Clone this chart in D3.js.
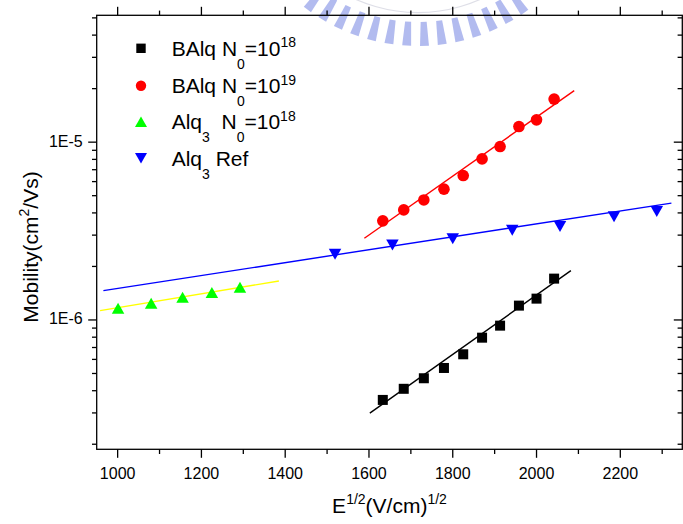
<!DOCTYPE html>
<html><head><meta charset="utf-8">
<script src="https://cdn.jsdelivr.net/npm/d3@7"></script>
<style>
html,body{margin:0;padding:0;background:#fff;}
svg{display:block;font-family:"Liberation Sans",Arial,Helvetica,sans-serif;}
</style></head><body>
<svg id="chart" width="683" height="524"></svg>
<script>
// Square-root field, E^(1/2) in (V/cm)^(1/2)
const fieldBAlq = [1633, 1683, 1731, 1779, 1825, 1870, 1913, 1958, 2000, 2042];
const muBAlq18 = [3.55e-7, 4.10e-7, 4.70e-7, 5.37e-7, 6.41e-7, 7.95e-7, 9.29e-7, 1.204e-6, 1.318e-6, 1.708e-6];
const muBAlq19 = [3.61e-6, 4.16e-6, 4.73e-6, 5.44e-6, 6.49e-6, 8.05e-6, 9.45e-6, 1.224e-5, 1.335e-5, 1.746e-5];
const fieldAlq18 = [1001, 1080, 1155, 1225, 1292];
const muAlq18 = [1.164e-6, 1.241e-6, 1.342e-6, 1.425e-6, 1.528e-6];
const fieldAlqRef = [1519, 1656, 1800, 1942, 2056, 2185, 2287];
const muAlqRef = [2.34e-6, 2.64e-6, 2.86e-6, 3.20e-6, 3.35e-6, 3.81e-6, 4.07e-6];

// Linear fits of log(mobility) vs E^(1/2): [start, end]
const fitBAlq18 = [[1602, 2.99e-7], [2082, 1.894e-6]];
const fitBAlq19 = [[1589, 2.88e-6], [2090, 1.95e-5]];
const fitAlq18 = [[958, 1.128e-6], [1385, 1.657e-6]];
const fitAlqRef = [[966, 1.462e-6], [2322, 4.54e-6]];

// Axis ticks
const xMajorTicks = [1000, 1200, 1400, 1600, 1800, 2000, 2200];
const xMinorTicks = [1100, 1300, 1500, 1700, 1900, 2100, 2300];
const yMajorTicks = [1e-6, 1e-5];
const yMinorTicks = [2e-7, 3e-7, 4e-7, 5e-7, 6e-7, 7e-7, 8e-7, 9e-7,
                     2e-6, 3e-6, 4e-6, 5e-6, 6e-6, 7e-6, 8e-6, 9e-6,
                     2e-5, 3e-5, 4e-5, 5e-5];

// Legend entries (rich text segments)
const legendLabels = [
  [{t: "BAlq N"}, {t: "0", sub: true}, {t: "=10"}, {t: "18", sup: true}],
  [{t: "BAlq N"}, {t: "0", sub: true}, {t: "=10"}, {t: "19", sup: true}],
  [{t: "Alq"}, {t: "3", sub: true}, {t: "  N"}, {t: "0", sub: true}, {t: "=10"}, {t: "18", sup: true}],
  [{t: "Alq"}, {t: "3", sub: true}, {t: " Ref"}]
];

const svg = d3.select("#chart");
svg.append("rect").attr("width", 683).attr("height", 524).attr("fill", "#fff");

const plot = {left: 96.7, right: 682.3, top: 15.3, bottom: 449.3};
const x = d3.scaleLinear().domain([950, 2348]).range([plot.left, plot.right]);
const y = d3.scaleLog().domain([1.873e-7, 5.17e-5]).range([plot.bottom, plot.top]);

// Faint emblem printed behind the top of the frame
const emblem = svg.append("g").attr("opacity", 0.6);
const emblemAngles = [55, 60.5, 66, 71.5, 77, 82.5, 88, 93.5, 99, 104.5, 110, 115.5, 121, 126.5];
const ec = {x: 418, y: -140};
emblemAngles.forEach(a => {
  const r0 = 162, r1 = 186, half = 1.25;
  const p = (ang, r) => [ec.x + r * Math.cos(ang * Math.PI / 180), ec.y + r * Math.sin(ang * Math.PI / 180)];
  const pts = [p(a - half * 0.85, r0), p(a + half * 0.85, r0), p(a + half * 1.1, r1), p(a - half * 1.1, r1)];
  emblem.append("path").attr("d", "M" + pts.map(q => q.join(",")).join("L") + "Z").attr("fill", "#7f8ee6");
});
emblem.append("path")
  .attr("d", d3.arc()({innerRadius: 152, outerRadius: 153.2, startAngle: Math.PI * 0.64, endAngle: Math.PI * 1.36}))
  .attr("transform", `translate(${ec.x},${ec.y})`).attr("fill", "#c9cad8");

// Ticks
const tickG = svg.append("g").attr("stroke", "#000").attr("stroke-width", 1.3);
const MAJ = 8.5, MIN = 4.7;
xMajorTicks.forEach(v => {
  tickG.append("line").attr("x1", x(v)).attr("x2", x(v)).attr("y1", plot.bottom).attr("y2", plot.bottom + MAJ);
  tickG.append("line").attr("x1", x(v)).attr("x2", x(v)).attr("y1", plot.top).attr("y2", plot.top - MAJ);
});
xMinorTicks.forEach(v => {
  tickG.append("line").attr("x1", x(v)).attr("x2", x(v)).attr("y1", plot.bottom).attr("y2", plot.bottom + MIN);
  tickG.append("line").attr("x1", x(v)).attr("x2", x(v)).attr("y1", plot.top).attr("y2", plot.top - MIN);
});
yMajorTicks.forEach(v => {
  tickG.append("line").attr("y1", y(v)).attr("y2", y(v)).attr("x1", plot.left).attr("x2", plot.left - MAJ);
  tickG.append("line").attr("y1", y(v)).attr("y2", y(v)).attr("x1", plot.right).attr("x2", plot.right - MAJ);
});
yMinorTicks.forEach(v => {
  tickG.append("line").attr("y1", y(v)).attr("y2", y(v)).attr("x1", plot.left).attr("x2", plot.left - MIN);
  tickG.append("line").attr("y1", y(v)).attr("y2", y(v)).attr("x1", plot.right).attr("x2", plot.right - MIN);
});

// Frame
svg.append("rect")
  .attr("x", plot.left).attr("y", plot.top)
  .attr("width", plot.right - plot.left).attr("height", plot.bottom - plot.top)
  .attr("fill", "none").attr("stroke", "#000").attr("stroke-width", 1.3);

// Tick labels
svg.append("g").selectAll("text").data(xMajorTicks).join("text")
  .attr("x", d => x(d)).attr("y", 478.5)
  .attr("text-anchor", "middle").attr("font-size", 16).text(d => d);
svg.append("g").selectAll("text").data(yMajorTicks).join("text")
  .attr("x", 82.7).attr("y", d => y(d) + 4.5)
  .attr("text-anchor", "end").attr("font-size", 16)
  .text(d => "1E" + Math.round(Math.log10(d)));

// Rich text helper (sub/superscripts)
function rich(sel, parts, size, subShift, supShift, small) {
  let off = 0;
  parts.forEach(p => {
    let target = p.sub ? subShift : p.sup ? -supShift : 0;
    sel.append("tspan")
      .attr("dy", target - off)
      .attr("font-size", p.sub || p.sup ? small : size)
      .text(p.t);
    off = target;
  });
}

// Axis titles
const xt = svg.append("text").attr("x", x((950 + 2348) / 2)).attr("y", 513)
  .attr("text-anchor", "middle").attr("font-size", 21).style("white-space", "pre");
rich(xt, [{t: "E"}, {t: "1/2", sup: true}, {t: "(V/cm)"}, {t: "1/2", sup: true}], 21, 13, 9, 14);

const yt = svg.append("text").attr("transform", "translate(37.5,247) rotate(-90)")
  .attr("text-anchor", "middle").attr("font-size", 21);
rich(yt, [{t: "Mobility(cm"}, {t: "2", sup: true}, {t: "/Vs)"}], 21, 13, 9, 14);

// Marker shapes
const tri = (w, h, down) => down
  ? `M${-w / 2},${-h / 2}L${w / 2},${-h / 2}L0,${h / 2}Z`
  : `M0,${-h / 2}L${w / 2},${h / 2}L${-w / 2},${h / 2}Z`;

// Fit lines
const line = d3.line().x(d => x(d[0])).y(d => y(d[1]));
const fits = [[fitAlq18, "#ffff00"], [fitAlqRef, "#0000ff"], [fitBAlq19, "#ff0000"], [fitBAlq18, "#000000"]];
fits.forEach(([f, c]) => {
  svg.append("path").attr("d", line(f)).attr("fill", "none").attr("stroke", c).attr("stroke-width", 1.4);
});

// Data markers
const pts = (xs, ys) => xs.map((v, i) => [v, ys[i]]);
svg.append("g").selectAll("rect").data(pts(fieldBAlq, muBAlq18)).join("rect")
  .attr("x", d => x(d[0]) - 5).attr("y", d => y(d[1]) - 5)
  .attr("width", 10).attr("height", 10).attr("fill", "#000");
svg.append("g").selectAll("circle").data(pts(fieldBAlq, muBAlq19)).join("circle")
  .attr("cx", d => x(d[0])).attr("cy", d => y(d[1])).attr("r", 5.8).attr("fill", "#ff0000");
svg.append("g").selectAll("path").data(pts(fieldAlq18, muAlq18)).join("path")
  .attr("transform", d => `translate(${x(d[0])},${y(d[1])})`)
  .attr("d", tri(12.5, 11, false)).attr("fill", "#00ff00");
svg.append("g").selectAll("path").data(pts(fieldAlqRef, muAlqRef)).join("path")
  .attr("transform", d => `translate(${x(d[0])},${y(d[1])})`)
  .attr("d", tri(12.5, 11, true)).attr("fill", "#0000ff");

// Legend
const legendY = [48.3, 85.7, 121.7, 158.3];
const lg = svg.append("g");
lg.append("rect").attr("x", 141 - 4.7).attr("y", legendY[0] - 4.7).attr("width", 9.4).attr("height", 9.4).attr("fill", "#000");
lg.append("circle").attr("cx", 141).attr("cy", legendY[1]).attr("r", 5.2).attr("fill", "#ff0000");
lg.append("path").attr("transform", `translate(141,${legendY[2]})`).attr("d", tri(12, 10.5, false)).attr("fill", "#00ff00");
lg.append("path").attr("transform", `translate(141,${legendY[3]})`).attr("d", tri(12, 10.5, true)).attr("fill", "#0000ff");
legendLabels.forEach((parts, i) => {
  const t = lg.append("text").attr("x", 171.7).attr("y", legendY[i] + 7.7)
    .attr("font-size", 21).style("white-space", "pre");
  rich(t, parts, 21, 13, 8.7, 14);
});
</script>
</body></html>
